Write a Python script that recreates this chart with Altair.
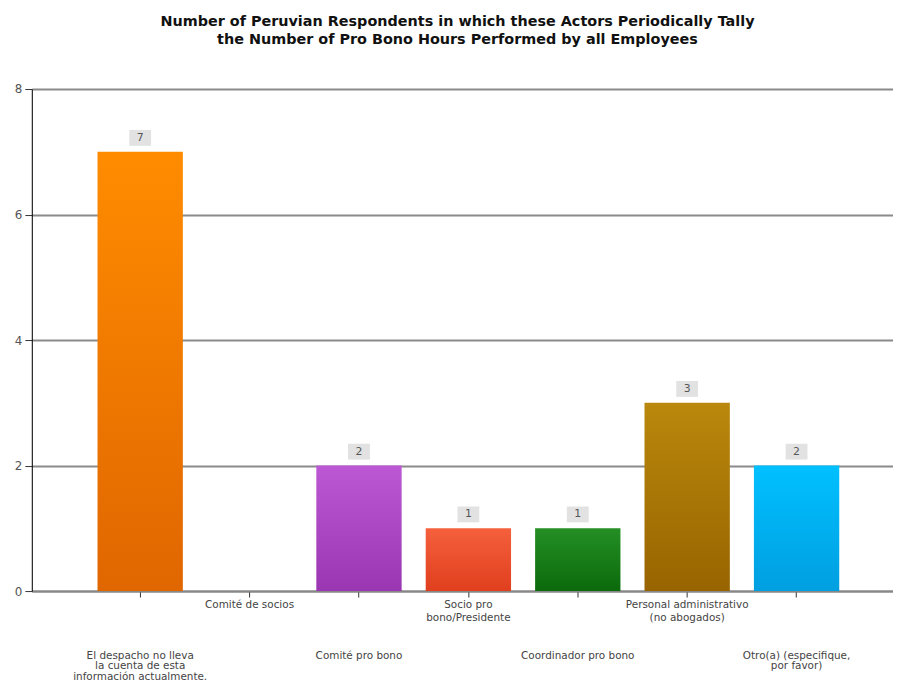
import altair as alt
import pandas as pd

categories = [
    "El despacho no lleva la cuenta de esta información actualmente.",
    "Comité de socios",
    "Comité pro bono",
    "Socio pro bono/Presidente",
    "Coordinador pro bono",
    "Personal administrativo (no abogados)",
    "Otro(a) (especifique, por favor)",
]
label_text = [
    "El despacho no lleva\nla cuenta de esta\ninformación actualmente.",
    "Comité de socios",
    "Comité pro bono",
    "Socio pro\nbono/Presidente",
    "Coordinador pro bono",
    "Personal administrativo\n(no abogados)",
    "Otro(a)  (especifique,\npor favor)",
]
values = [7, 0, 2, 1, 1, 3, 2]
color_top = ["#FF8C00", "#FFFFFF", "#BC58D4", "#F5603C", "#248F24", "#BA880C", "#00C0FF"]
color_bottom = ["#E06600", "#FFFFFF", "#9A36B2", "#E03F1E", "#0B6A0B", "#976400", "#009FE0"]

title_lines = [
    "Number of Peruvian Respondents in which these Actors Periodically Tally",
    "the Number of Pro Bono Hours Performed by all Employees",
]

df = pd.DataFrame({
    "cat": categories,
    "label": label_text,
    "value": values,
    "idx": list(range(len(categories))),
})

W, H = 868, 506

x_enc = alt.X(
    "cat:N",
    scale=alt.Scale(domain=categories, paddingInner=0.22, paddingOuter=0.546, align=0.55),
    axis=alt.Axis(labels=False, ticks=True, tickSize=6, tickColor="#333333",
                  domainColor="#888888", domainWidth=2, title=None),
)
y_scale = alt.Scale(domain=[0, 8], nice=False)
y_axis = alt.Axis(values=[0, 2, 4, 6, 8], grid=True, gridColor="#8a8a8a", gridWidth=2,
                  domainColor="#000000", domainWidth=1, tickColor="#333333", tickSize=7,
                  labelFontSize=12, labelColor="#555555", labelPadding=3,
                  labelFont="DejaVu Sans", title=None)

base = alt.Chart(df).encode(x=x_enc)

layers = []
for i, c in enumerate(categories):
    if values[i] <= 0:
        continue
    grad = alt.Gradient(
        gradient="linear",
        stops=[alt.GradientStop(color=color_top[i], offset=0),
               alt.GradientStop(color=color_bottom[i], offset=1)],
        x1=1, x2=1, y1=0, y2=1,
    )
    layers.append(
        base.mark_bar(color=grad).encode(
            y=alt.Y("value:Q", scale=y_scale, axis=y_axis)
        ).transform_filter(alt.datum.idx == i)
    )

box = base.mark_point(
    shape="M-1,-0.727 L1,-0.727 L1,0.727 L-1,0.727 Z",
    filled=True, fill="#e2e2e2", stroke=None, size=484, opacity=1, yOffset=-14,
).encode(y=alt.Y("value:Q", scale=y_scale, axis=y_axis)).transform_filter(alt.datum.value > 0)

nums = base.mark_text(
    fontSize=11, font="DejaVu Sans", color="#555555", baseline="middle", yOffset=-14,
).encode(
    y=alt.Y("value:Q", scale=y_scale, axis=y_axis), text="value:Q"
).transform_filter(alt.datum.value > 0)

upper = base.mark_text(
    fontSize=10.5, font="DejaVu Sans", color="#444444", baseline="top",
    lineBreak="\n", lineHeight=13, align="center",
).encode(y=alt.value(H + 9), text="label:N").transform_filter(alt.datum.idx % 2 == 1)

lower = base.mark_text(
    fontSize=10.5, font="DejaVu Sans", color="#444444", baseline="top",
    lineBreak="\n", lineHeight=11, align="center",
).encode(y=alt.value(H + 60), text="label:N").transform_filter(alt.datum.idx % 2 == 0)

chart = alt.layer(*layers, box, nums, upper, lower).properties(
    width=W, height=H,
    title=alt.TitleParams(
        text=title_lines, font="DejaVu Sans", fontSize=14.5, fontWeight="bold",
        color="#111111", anchor="middle", offset=36, lineHeight=18, dx=-5,
    ),
    autosize="none",
    padding={"left": 24, "top": 79, "right": 0, "bottom": 91},
).configure_view(stroke=None).configure(background="white")

chart.save("out.html", embed_options={"renderer": "svg", "actions": False})
